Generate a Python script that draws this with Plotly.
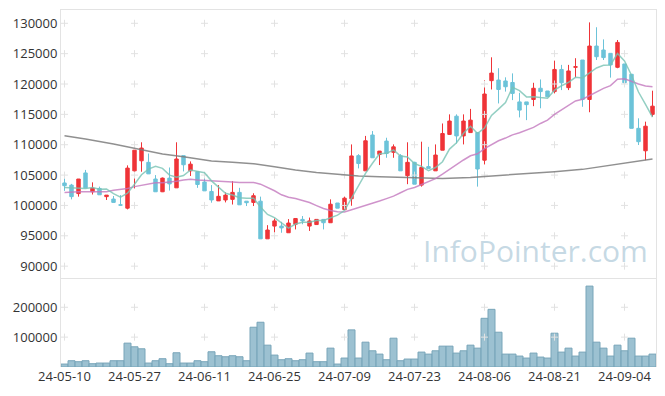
import plotly.graph_objects as go
from plotly.subplots import make_subplots
import pandas as pd

dates = [
    "24-05-10", "24-05-13", "24-05-14", "24-05-16", "24-05-17", "24-05-20", "24-05-21", "24-05-22",
    "24-05-23", "24-05-24", "24-05-27", "24-05-28", "24-05-29", "24-05-30", "24-05-31",
    "24-06-03", "24-06-04", "24-06-05", "24-06-07", "24-06-10", "24-06-11", "24-06-12", "24-06-13",
    "24-06-14", "24-06-17", "24-06-18", "24-06-19", "24-06-20", "24-06-21", "24-06-24", "24-06-25",
    "24-06-26", "24-06-27", "24-06-28",
    "24-07-01", "24-07-02", "24-07-03", "24-07-04", "24-07-05", "24-07-08", "24-07-09", "24-07-10",
    "24-07-11", "24-07-12", "24-07-15", "24-07-16", "24-07-17", "24-07-18", "24-07-19", "24-07-22",
    "24-07-23", "24-07-24", "24-07-25", "24-07-26", "24-07-29", "24-07-30", "24-07-31",
    "24-08-01", "24-08-02", "24-08-05", "24-08-06", "24-08-07", "24-08-08", "24-08-09", "24-08-12",
    "24-08-13", "24-08-14", "24-08-16", "24-08-19", "24-08-20", "24-08-21", "24-08-22", "24-08-23",
    "24-08-26", "24-08-27", "24-08-28", "24-08-29", "24-08-30",
    "24-09-02", "24-09-03", "24-09-04", "24-09-05", "24-09-06", "24-09-09", "24-09-10",
]

opens = [
    103700, 103350, 101950, 105350, 102250, 102800, 101450, 101050, 100100, 99550,
    105700, 107350, 107100, 104350, 102250, 104500, 102900, 108200, 105700, 105550,
    103850, 102300, 100750, 100900, 101000, 102150, 100700, 100500, 100700, 94500,
    96600, 96600, 95500, 96900, 97700, 96600, 96850, 97700, 97150, 100400,
    99300, 101100, 108200, 105700, 111600, 108400, 110600, 108750, 108200, 104900,
    107100, 103350, 106400, 105700, 109100, 111700, 114700, 111450, 112000, 112000,
    107450, 120550, 120650, 120500, 120250, 117050, 117050, 117450, 119300, 118850,
    118750, 122400, 119400, 122750, 123950, 117450, 126250, 125600, 125050, 122750,
    123300, 121600, 112700, 109000, 115000,
]
highs = [
    104450, 103550, 104350, 105850, 103800, 103100, 101700, 101550, 101700, 106600,
    109100, 110400, 108550, 105000, 104600, 106250, 110400, 108200, 107250, 105550,
    104750, 103350, 103350, 102150, 104000, 102900, 100700, 102000, 101450, 96750,
    97850, 97300, 97750, 97850, 98250, 98000, 97700, 97700, 101000, 100400,
    101450, 110050, 108450, 111450, 112250, 108950, 111150, 110050, 108450, 110400,
    107200, 110500, 109650, 110050, 113500, 115000, 115000, 115000, 115900, 112000,
    120650, 124400, 122600, 121100, 121750, 118550, 117050, 120200, 120750, 118850,
    123850, 123150, 123150, 124250, 123950, 130150, 129350, 127350, 125050, 127250,
    123300, 121600, 114350, 113800, 118900,
]
lows = [
    102400, 101000, 101450, 102900, 101800, 101750, 100900, 100500, 100000, 99350,
    102800, 105550, 105200, 102250, 102200, 102450, 102900, 105600, 104850, 102900,
    102400, 100450, 100750, 100500, 100150, 100100, 99900, 99900, 94500, 94500,
    95500, 95500, 95500, 96050, 96900, 95800, 96850, 96050, 97150, 99550,
    99300, 99950, 106100, 105700, 107850, 106650, 107850, 107850, 105700, 103500,
    103500, 103100, 106100, 105700, 109100, 111600, 110200, 110050, 112000, 103100,
    106750, 119100, 116800, 118750, 117350, 114500, 114050, 116350, 116000, 117900,
    118450, 119000, 119000, 121100, 116250, 115350, 123950, 123950, 121050, 122600,
    119850, 112700, 109950, 107450, 114600,
]
closes = [
    103250, 101450, 104350, 102900, 102850, 101750, 101700, 100500, 100050, 106150,
    109100, 109450, 105200, 102250, 104500, 103550, 107650, 106700, 106800, 103450,
    102400, 100900, 101500, 101700, 102150, 100100, 100450, 101600, 94500, 95950,
    97450, 96300, 97100, 97850, 97450, 97450, 97700, 97150, 100200, 99550,
    101200, 108150, 106900, 110650, 107850, 108950, 108550, 109650, 105700, 107100,
    103500, 106250, 106100, 108300, 111850, 113900, 111450, 113900, 114050, 106000,
    118350, 121800, 119100, 119550, 118450, 115700, 116600, 119300, 118750, 117900,
    122400, 120200, 122150, 122850, 117450, 126250, 124500, 124350, 123150, 126850,
    120200, 112700, 110500, 113050, 116350,
]
volumes = [
    9900, 21000, 17700, 21000, 11000, 13200, 13200, 21000, 21000, 79900,
    67700, 61000, 13200, 21000, 27700, 11000, 47700, 13200, 13200, 21000,
    17700, 51000, 37700, 34300, 37700, 34300, 21000, 133200, 149900, 73200,
    39900, 24300, 27700, 21000, 24300, 46600, 17700, 17700, 63200, 9900,
    30000, 124300, 30000, 83200, 54300, 43200, 24300, 96500, 21000, 26600,
    26600, 49900, 43200, 54300, 69900, 69900, 46600, 54300, 73200, 63200,
    163100, 193100, 116500, 43200, 43200, 36600, 30000, 46600, 33200, 30000,
    113200, 49900, 63200, 36600, 49900, 270900, 83200, 63200, 36600, 73200,
    54300, 96500, 36600, 36600, 43200,
]

# moving-average values before the window could be computed
ma5_head = [102950, 102900, 102900, 102800]
ma20_head = [102150, 102250, 102250, 102250, 102250, 102250, 102250, 102500, 102650, 102800,
             103100, 103350, 103600, 103750, 103750, 103850, 104000, 104200, 104300]
ma120_idx = [0, 3, 7, 10, 14, 17, 21, 24, 27, 30, 33, 36, 39, 42, 45, 50, 54, 58, 62, 66,
             70, 74, 78, 80, 82, 84]
ma120_val = [111480, 110950, 110110, 109400, 108460, 108020, 107310, 107100, 106870, 106380,
             105830, 105440, 105170, 104840, 104730, 104510, 104450, 104620, 104890, 105280,
             105550, 105940, 106650, 107030, 107310, 107640]

price_ticks = list(range(90000, 130001, 5000))
volume_ticks = [100000, 200000]
xtick_labels = dates[::10]
watermark = "InfoPointer.com"

cs = pd.Series(closes, dtype=float)
ma5 = cs.rolling(5).mean().tolist()
ma5[:len(ma5_head)] = ma5_head
ma20 = cs.rolling(20).mean().tolist()
ma20[:len(ma20_head)] = ma20_head
ma120_x = [dates[i] for i in ma120_idx]

RED = "#ef3438"
BLUE = "#6cc3d9"
GRID = "#e2e2e2"
FRAME = "#e3e3e3"
FONT = "Open Sans"

fig = make_subplots(rows=2, cols=1, shared_xaxes=True, vertical_spacing=0,
                    row_heights=[0.751, 0.249])

fig.add_trace(go.Candlestick(
    x=dates, open=opens, high=highs, low=lows, close=closes,
    increasing=dict(line=dict(color=RED, width=1), fillcolor=RED),
    decreasing=dict(line=dict(color=BLUE, width=1), fillcolor=BLUE),
    whiskerwidth=0, hoverinfo="skip", showlegend=False), row=1, col=1)

# grid crosses
gx, gy = [], []
for xv in xtick_labels:
    for yv in price_ticks:
        gx.append(xv); gy.append(yv)
fig.add_trace(go.Scatter(x=gx, y=gy, mode="markers", hoverinfo="skip", showlegend=False,
                         marker=dict(symbol="cross-thin", size=5, line=dict(width=1, color=GRID))),
              row=1, col=1)
vx, vy = [], []
for xv in xtick_labels:
    for yv in volume_ticks:
        vx.append(xv); vy.append(yv)
fig.add_trace(go.Scatter(x=vx, y=vy, mode="markers", hoverinfo="skip", showlegend=False,
                         marker=dict(symbol="cross-thin", size=5, line=dict(width=1, color=GRID))),
              row=2, col=1)

fig.add_trace(go.Scatter(x=ma120_x, y=ma120_val, mode="lines", line=dict(color="rgba(125,125,125,0.85)", width=1.5),
                         hoverinfo="skip", showlegend=False), row=1, col=1)
fig.add_trace(go.Scatter(x=dates, y=ma20, mode="lines", line=dict(color="rgba(195,120,190,0.8)", width=1.5),
                         hoverinfo="skip", showlegend=False), row=1, col=1)
fig.add_trace(go.Scatter(x=dates, y=ma5, mode="lines", line=dict(color="rgba(120,195,180,0.8)", width=1.5),
                         hoverinfo="skip", showlegend=False), row=1, col=1)

fig.add_trace(go.Bar(x=dates, y=volumes, marker=dict(color="rgba(145,186,204,0.9)",
                                                      line=dict(color="#78a5b9", width=1)),
                     hoverinfo="skip", showlegend=False), row=2, col=1)

fig.update_xaxes(type="category", categoryorder="array", categoryarray=dates,
                 range=[-0.5, len(dates) - 0.5], showgrid=False, zeroline=False,
                 tickvals=xtick_labels, ticktext=xtick_labels, ticks="", automargin=False,
                 rangeslider_visible=False, fixedrange=True)
fig.update_xaxes(showticklabels=False, showline=True, mirror=True, linecolor=FRAME, linewidth=1,
                 row=1, col=1)
fig.update_xaxes(showticklabels=True, showline=False, tickfont=dict(family=FONT, size=13, color="#333333"),
                 row=2, col=1)

fig.update_yaxes(range=[88030, 132190], tickvals=price_ticks, ticktext=[str(v) for v in price_ticks],
                 showgrid=False, zeroline=False, automargin=False, fixedrange=True,
                 showline=True, mirror=True, linecolor=FRAME, linewidth=1, ticks="",
                 tickfont=dict(family=FONT, size=13, color="#333333"), row=1, col=1)
fig.update_yaxes(range=[0, 297700], tickvals=volume_ticks, ticktext=[str(v) for v in volume_ticks],
                 showgrid=False, zeroline=False, automargin=False, fixedrange=True,
                 showline=True, mirror=True, linecolor=FRAME, linewidth=1, ticks="",
                 tickfont=dict(family=FONT, size=13, color="#333333"), row=2, col=1)

fig.add_annotation(text=watermark, xref="paper", yref="paper", x=0.99, y=0.262,
                   xanchor="right", yanchor="bottom", showarrow=False,
                   font=dict(family=FONT, size=30, color="rgba(160,192,210,0.6)"))

fig.update_layout(width=665, height=396, margin=dict(l=61, r=9, t=10, b=29, autoexpand=False),
                  paper_bgcolor="white", plot_bgcolor="white", bargap=0, hovermode=False,
                  showlegend=False, font=dict(family=FONT))

fig.write_html("out.html", config={"displayModeBar": False, "staticPlot": True},
               post_script="document.body.style.margin='0px';document.body.style.overflow='hidden';")
